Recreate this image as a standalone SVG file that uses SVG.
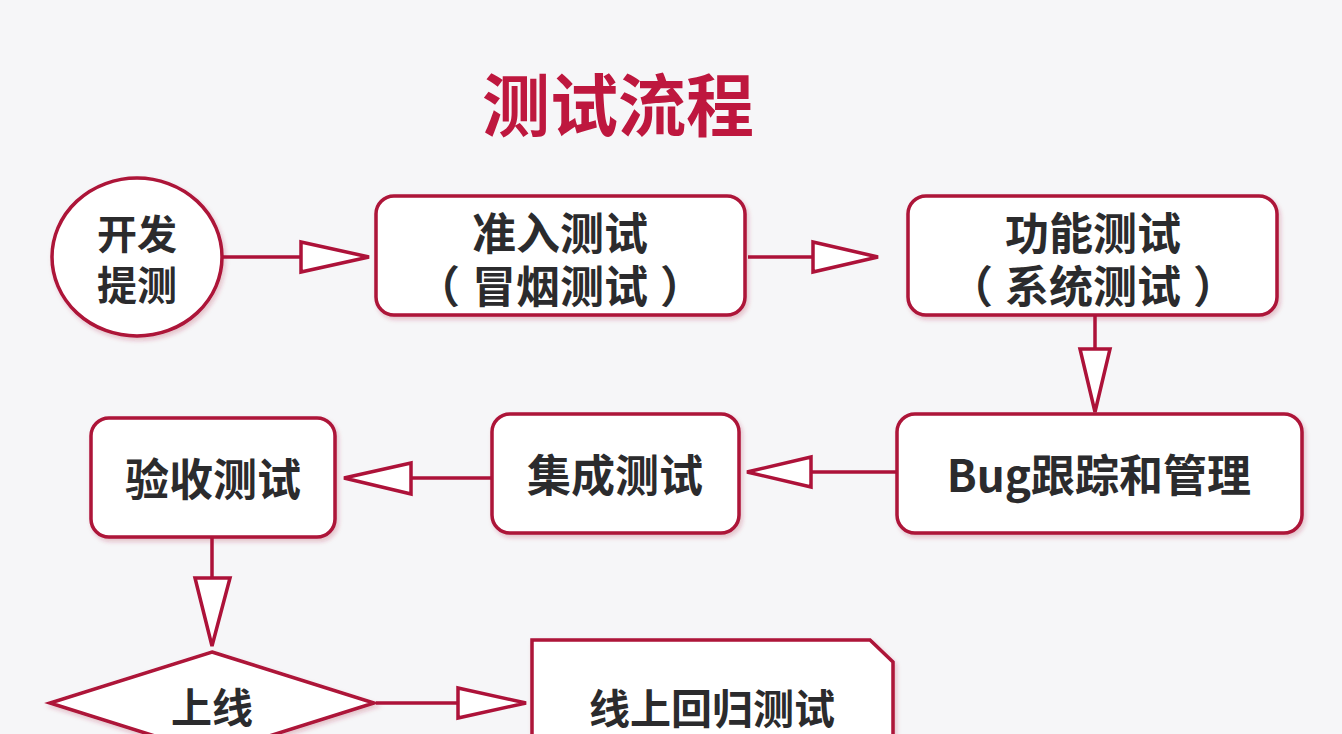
<svg xmlns="http://www.w3.org/2000/svg" width="1342" height="734" viewBox="0 0 1342 734">
<defs>
<style>
.nd{fill:#ffffff;stroke:#ad1239;stroke-width:3.5;filter:url(#sh)}
.t{font-family:"Noto Sans CJK SC","Noto Sans",sans-serif;font-weight:700;fill:#2b2b2d;text-anchor:middle;dominant-baseline:central}
.ln{stroke:#ad1239;stroke-width:3.5;fill:none}
.ah{fill:#ffffff;stroke:#ad1239;stroke-width:3.5;stroke-linejoin:miter}
</style>
<filter id="sh" x="-10%" y="-10%" width="120%" height="130%">
<feDropShadow dx="2" dy="3" stdDeviation="2" flood-color="#ad1239" flood-opacity="0.25"/>
</filter>
</defs>
<rect x="0" y="0" width="1342" height="734" fill="#f6f6f8"/>
<text id="title" x="618" y="101" class="t" style="fill:#be173e;font-size:68px">测试流程</text>

<g id="n-start">
<ellipse class="nd" cx="137" cy="257" rx="85" ry="79"/>
<text class="t" x="137" y="232" font-size="40">开发</text>
<text class="t" x="137" y="283" font-size="40">提测</text>
</g>
<g id="n-smoke">
<rect class="nd" x="376" y="196" width="369" height="119" rx="18"/>
<text class="t" x="560" y="231" font-size="44">准入测试</text>
<text class="t" x="560" y="284" font-size="44"><tspan>（</tspan><tspan dx="12">冒烟测试</tspan><tspan dx="12">）</tspan></text>
</g>
<g id="n-func">
<rect class="nd" x="908" y="196" width="369" height="119" rx="18"/>
<text class="t" x="1093" y="231" font-size="44">功能测试</text>
<text class="t" x="1093" y="284" font-size="44"><tspan>（</tspan><tspan dx="12">系统测试</tspan><tspan dx="12">）</tspan></text>
</g>
<g id="n-bug">
<rect class="nd" x="897" y="414" width="405" height="119" rx="18"/>
<text class="t" x="1099" y="473" font-size="44">Bug跟踪和管理</text>
</g>
<g id="n-integ">
<rect class="nd" x="492" y="414" width="247" height="119" rx="18"/>
<text class="t" x="615" y="473" font-size="44">集成测试</text>
</g>
<g id="n-accept">
<rect class="nd" x="91" y="418" width="244" height="119" rx="18"/>
<text class="t" x="213" y="477" font-size="44">验收测试</text>
</g>
<g id="n-online">
<polygon class="nd" points="212,652 374,703 212,754 50,703"/>
<text class="t" x="212" y="705" font-size="41">上线</text>
</g>
<g id="n-regress">
<polygon class="nd" points="532,640 870,640 893,662 893,760 532,760"/>
<text class="t" x="712" y="706" font-size="41">线上回归测试</text>
</g>

<g id="connectors">
<line class="ln" x1="222" y1="257" x2="301" y2="257"/>
<polygon class="ah" points="301,242 369,257 301,272"/>
<line class="ln" x1="748" y1="257" x2="813" y2="257"/>
<polygon class="ah" points="813,242 878,257 813,272"/>
<line class="ln" x1="1095" y1="315" x2="1095" y2="349"/>
<polygon class="ah" points="1080,349 1110,349 1095,412"/>
<line class="ln" x1="897" y1="472" x2="811" y2="472"/>
<polygon class="ah" points="811,457 747,472 811,487"/>
<line class="ln" x1="492" y1="478" x2="411" y2="478"/>
<polygon class="ah" points="411,463 344,478 411,494"/>
<line class="ln" x1="212" y1="538" x2="212" y2="578"/>
<polygon class="ah" points="195,578 230,578 212,646"/>
<line class="ln" x1="376" y1="703" x2="458" y2="703"/>
<polygon class="ah" points="458,688 526,703 458,718"/>
</g>
</svg>
